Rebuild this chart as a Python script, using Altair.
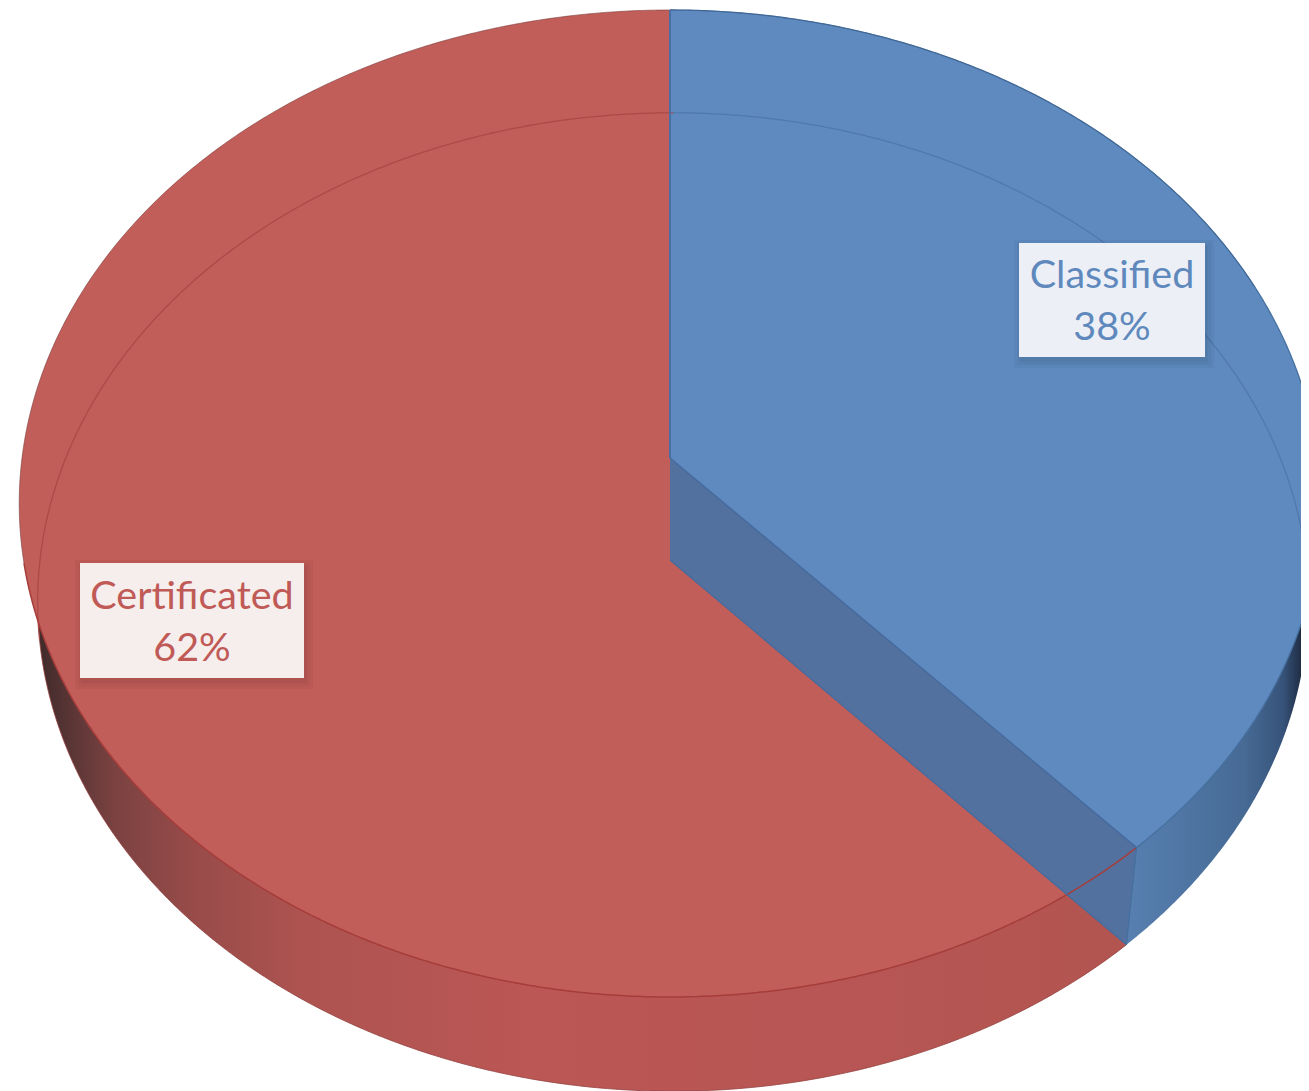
import numpy as np
import pandas as pd
import altair as alt

# ---- chart values ----
categories = ["Classified", "Certificated"]
shares = [38.3, 61.7]
share_labels = ["38%", "62%"]
face_colors = ["#5e8abf", "#c25e59"]
text_colors = ["#5f89bd", "#c05a56"]
box_fill = ["#ecf0f6", "#f6eded"]
box_x = [(1019, 1205), (80, 304)]
box_y = [(243, 357), (563, 678)]

# ---- perspective disc model (top face and bottom face of the pie) ----
TOP = dict(cx=670, cy=458, a=648.0, b=489.3, k=0.0922)
BOT = dict(cx=673, cy=560, a=633.0, b=485.6, k=0.0859)
split = 2 * np.pi * shares[0] / sum(shares)   # clockwise from 12 o'clock


def rim(disc, t0, t1, n=360):
    t = np.linspace(t0, t1, n)
    u, v = np.sin(t), -np.cos(t)
    w = 1 - disc["k"] * v
    return np.c_[disc["cx"] + disc["a"] * u / w, disc["cy"] + disc["b"] * v / w]


def apex(disc):
    return np.array([[disc["cx"], disc["cy"]]], dtype=float)


def band(poly):
    """Turn an x-monotone polygon into x / y / y2 rows for an area mark."""
    poly = np.asarray(poly, dtype=float)
    a, b = poly, np.roll(poly, -1, axis=0)
    grid = np.unique(np.round(np.r_[poly[:, 0] - 1e-3, poly[:, 0] + 1e-3], 3))
    rows = []
    for x in grid:
        hit = (a[:, 0] - x) * (b[:, 0] - x) <= 0
        hit &= a[:, 0] != b[:, 0]
        if not hit.any():
            continue
        f = (x - a[hit, 0]) / (b[hit, 0] - a[hit, 0])
        y = a[hit, 1] + f * (b[hit, 1] - a[hit, 1])
        rows.append((x, y.min(), y.max()))
    return pd.DataFrame(rows, columns=["x", "y", "y2"])


X_SCALE = alt.Scale(domain=[8, 1301], nice=False, zero=False)
Y_SCALE = alt.Scale(domain=[1091, 8], nice=False, zero=False)
X = alt.X("x:Q", scale=X_SCALE, axis=None)
Y = alt.Y("y:Q", scale=Y_SCALE, axis=None)


def area(poly, color, **kw):
    return alt.Chart(band(poly)).mark_area(color=color, clip=True, **kw).encode(x=X, y=Y, y2="y2:Q")


def line(pts, color, width=1.2, opacity=1.0):
    df = pd.DataFrame(np.asarray(pts, dtype=float), columns=["x", "y"]).reset_index()
    return (
        alt.Chart(df)
        .mark_line(color=color, strokeWidth=width, opacity=opacity, clip=True)
        .encode(x=X, y=Y, order="index:Q")
    )


def grad(stops):
    return alt.Gradient(
        gradient="linear", x1=0, x2=1, y1=0, y2=0,
        stops=[alt.GradientStop(offset=o, color=c) for o, c in stops],
    )


red_wall = grad([(0, "#3f2a2a"), (0.03, "#5a3535"), (0.07, "#7a4241"), (0.14, "#974b49"),
                 (0.24, "#ad5350"), (0.45, "#bb5755"), (0.75, "#b75654"), (1, "#b25450")])
blue_wall = grad([(0, "#5e8abf"), (0.71, "#5880b0"), (0.80, "#4f76a4"), (0.90, "#466a94"),
                  (0.96, "#37537a"), (0.99, "#1e2c42"), (1, "#16202f")])

e = split
top_rim_point = rim(TOP, e, e, 1)
bot_rim_point = rim(BOT, e, e, 1)

layers = [
    # side walls (whole bottom-disc sectors, the top faces cover all but the front band)
    area(np.r_[apex(BOT), rim(BOT, e, 2 * np.pi)], red_wall),
    area(np.r_[apex(BOT), rim(BOT, 0, e)], blue_wall),
    # top faces
    area(np.r_[apex(TOP), rim(TOP, e, 2 * np.pi)], face_colors[1]),
    area(np.r_[apex(TOP), rim(TOP, 0, e)], face_colors[0]),
    # exposed inner wall of the slice
    area(np.r_[apex(TOP), apex(BOT) - [3, 0], bot_rim_point, top_rim_point], "#53719f"),
    # lines
    line(rim(BOT, 4.55, 2 * np.pi), "#ab4a48", 1.3),
    line(rim(BOT, 0, 1.62), "#5079ad", 1.3),
    line(rim(TOP, e, 4.5), "#a53d3b", 1.5),
    line(rim(TOP, 0.0, e), "#46709f", 1.3),
    line(rim(TOP, 4.5, 2 * np.pi), "#7a3a38", 1.0, 0.6),
    line(rim(TOP, 0, 1.2), "#3c5f8c", 1.0, 0.6),
    line(rim(BOT, e, 4.55), "#94413f", 1.0, 0.8),
    line(np.r_[apex(TOP), rim(TOP, 0, 0, 1)], "#4a6da3", 2.0),
    line(np.r_[apex(TOP), top_rim_point], "#466b9e", 1.5),
    line(np.r_[apex(BOT) - [3, 0], bot_rim_point], "#466b9e", 1.3),
    line(np.r_[top_rim_point, bot_rim_point], "#44709f", 1.2),
]

# ---- data labels ----
boxes = pd.DataFrame({
    "category": categories,
    "x": [b[0] for b in box_x],
    "x2": [b[1] for b in box_x],
    "y": [b[0] for b in box_y],
    "y2": [b[1] for b in box_y],
    "fill": box_fill,
})
# soft shadow: stacked, slightly growing translucent rectangles
for grow in (9, 6, 3):
    shadow = boxes.assign(x=boxes.x - grow + 4, x2=boxes.x2 + grow, y=boxes.y - grow + 6, y2=boxes.y2 + grow + 2)
    layers.append(
        alt.Chart(shadow).mark_rect(color="#000000", opacity=0.035).encode(x=X, x2="x2:Q", y=Y, y2="y2:Q")
    )
layers.append(
    alt.Chart(boxes).mark_rect().encode(
        x=X, x2="x2:Q", y=Y, y2="y2:Q", fill=alt.Fill("fill:N", scale=None)
    )
)
texts = pd.DataFrame({
    "text": categories + share_labels,
    "x": [sum(b) / 2 for b in box_x] * 2,
    "y": [276, 597, 328, 649],
    "color": [text_colors[0], text_colors[1], text_colors[0], text_colors[1]],
})
layers.append(
    alt.Chart(texts)
    .mark_text(font="Lato", fontSize=39.5, align="center", baseline="middle")
    .encode(x=X, y=Y, text="text:N", color=alt.Color("color:N", scale=None))
)

chart = (
    alt.layer(*layers)
    .properties(width=1293, height=1083, padding=0, autosize=alt.AutoSizeParams(type="none"))
    .configure_view(stroke=None)
)
chart.save("out.html", embed_options={"renderer": "svg", "actions": False})
